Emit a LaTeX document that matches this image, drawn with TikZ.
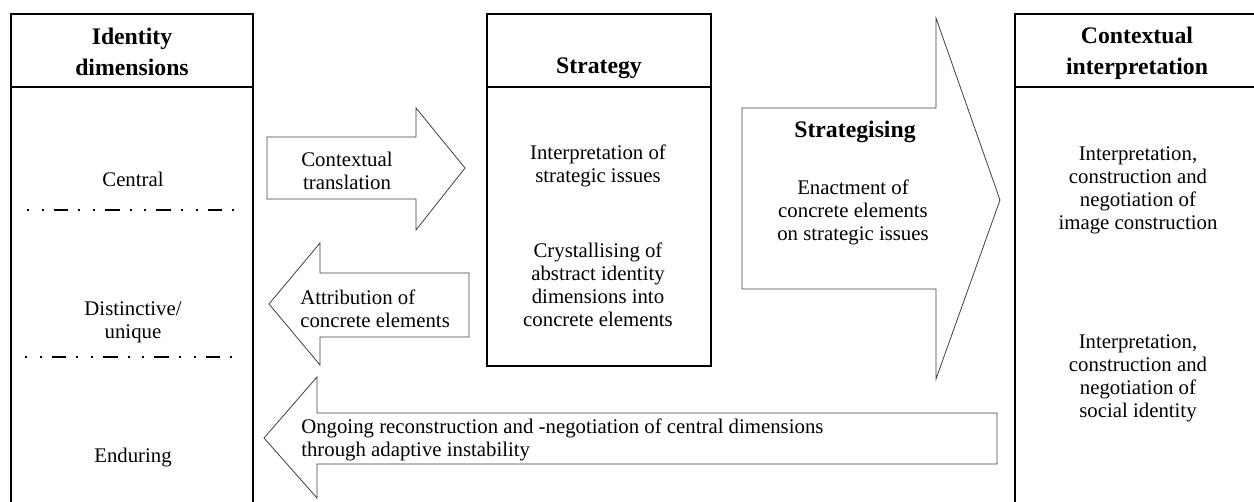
\documentclass[tikz,border=0pt]{standalone}
\usepackage{fontspec}
\setmainfont{Liberation Serif}
\begin{document}
\begin{tikzpicture}[x=0.75pt,y=-0.75pt,
  box/.style={draw=black,line width=1.1pt},
  blockarrow/.style={draw=black!75,line width=0.6pt,fill=white},
  sep/.style={draw=black,line width=0.9pt,dash pattern=on 1.5pt off 9.5pt on 1.5pt off 7.5pt on 11pt off 7.5pt},
  txt/.style={inner sep=0pt,align=center,font=\fontsize{15.6}{17.3}\selectfont},
  ltxt/.style={inner sep=0pt,align=left,anchor=west,font=\fontsize{15.6}{17.3}\selectfont},
  ttl/.style={inner sep=0pt,align=center,font=\fontsize{17.8}{23.5}\selectfont\bfseries}]
\useasboundingbox (0,0) rectangle (1254,502);
\fill[white] (0,0) rectangle (1254,502);
% left box
\draw[box] (11,540) -- (11,14) -- (253,14) -- (253,540);
\draw[box] (11,87) -- (253,87);
\node[ttl] (idt) at (132,52) {Identity\\dimensions};
\node[txt] (central) at (133,179) {Central};
\draw[sep] (27,210) -- (237,210);
\node[txt] (distinct) at (133,322) {Distinctive/\\unique};
\draw[sep] (25,357) -- (236,357);
\node[txt] (enduring) at (133,458) {Enduring};
% strategy box
\draw[box] (487,14) rectangle (711,366);
\draw[box] (487,87) -- (711,87);
\node[ttl] (strat) at (599,68) {Strategy};
\node[txt] (interp) at (598,166) {Interpretation of\\strategic issues};
\node[txt] (cryst) at (598,285) {Crystallising of\\abstract identity\\dimensions into\\concrete elements};
% right box
\draw[box] (1300,14) -- (1015,14) -- (1015,540);
\draw[box] (1015,87) -- (1300,87);
\node[ttl] (ctx) at (1137,53) {Contextual\\interpretation};
\node[txt] (img) at (1138,190) {Interpretation,\\construction and\\negotiation of\\image construction};
\node[txt] (soc) at (1138,378) {Interpretation,\\construction and\\negotiation of\\social identity};
% block arrows
\draw[blockarrow] (267,137) -- (416,137) -- (416,108) -- (465,168) -- (416,230) -- (416,199) -- (267,199) -- cycle;
\node[txt] (ct) at (347,171) {Contextual\\translation};
\draw[blockarrow] (469,273) -- (320,273) -- (320,243) -- (269,304) -- (320,365) -- (320,337) -- (469,337) -- cycle;
\node[ltxt] (attr) at (300,309) {Attribution of\\concrete elements};
\draw[blockarrow] (997,413) -- (317,413) -- (317,377) -- (264,438) -- (317,498) -- (317,464) -- (997,464) -- cycle;
\node[ltxt] (ongo) at (301,440) {Ongoing reconstruction and -negotiation of central dimensions\\through adaptive instability};
\draw[blockarrow] (742,108) -- (936,108) -- (936,18) -- (1000,200) -- (936,379) -- (936,289) -- (742,289) -- cycle;
\node[ttl] (sing) at (855,132) {Strategising};
\node[txt] (enact) at (853,212) {Enactment of\\concrete elements\\on strategic issues};
\end{tikzpicture}
\end{document}
